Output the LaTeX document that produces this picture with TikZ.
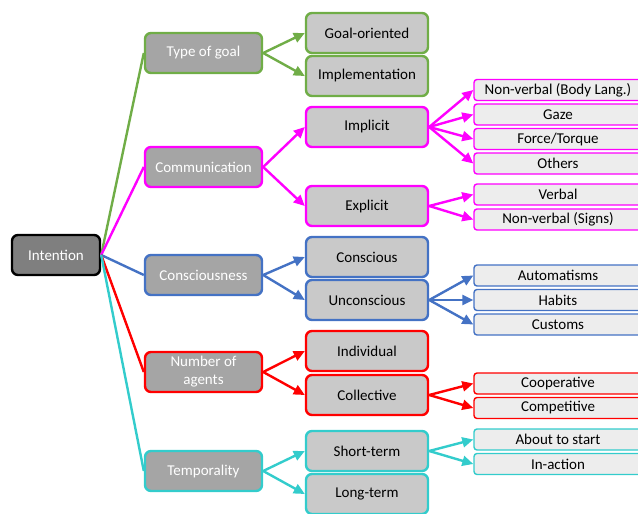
\documentclass[tikz,border=0pt]{standalone}
\usepackage{fontspec}
\setmainfont{Carlito}
\usepackage{xcolor}
\usetikzlibrary{arrows.meta}
\definecolor{goalgreen}{HTML}{70AD47}
\definecolor{commmag}{HTML}{FF00FF}
\definecolor{conblue}{HTML}{4472C4}
\definecolor{agentred}{HTML}{FF0000}
\definecolor{tempcyan}{HTML}{33CCCC}
\definecolor{rootgray}{HTML}{7F7F7F}
\definecolor{catgray}{HTML}{A5A5A5}
\definecolor{subgray}{HTML}{C9C9C9}
\definecolor{leafgray}{HTML}{EDEDED}

\begin{document}
\begin{tikzpicture}[x=1pt, y=-1pt,
	root/.style={draw=black, fill=rootgray, text=white, line width=2.4pt, rounded corners=6pt,
		minimum width=88pt, minimum height=40pt, font=\fontsize{15}{17}\selectfont},
	cat/.style={draw=#1, fill=catgray, text=white, line width=2.4pt, rounded corners=6pt,
		minimum width=117pt, minimum height=40pt, align=center, font=\fontsize{15}{18}\selectfont},
	sub/.style={draw=#1, fill=subgray, line width=2.4pt, rounded corners=6pt,
		minimum width=122pt, minimum height=40pt, font=\fontsize{15}{17}\selectfont},
	leaf/.style={draw=#1, fill=leafgray, line width=1.4pt, rounded corners=3pt,
		minimum width=168pt, minimum height=21pt, inner sep=0pt, font=\fontsize{15}{17}\selectfont},
	branch/.style={#1, line width=2.4pt},
	arr/.style={#1, line width=2.4pt, -{Triangle[length=11pt, width=10pt]}}
]
	\useasboundingbox (0,0) rectangle (638,514);

	% root
	\node[root] (intention) at (56,255) {Intention};

	% categories
	\node[cat=goalgreen] (goaltype) at (203.5,53) {Type of goal};
	\node[cat=commmag] (comm) at (203.5,167) {Communication};
	\node[cat=conblue] (consc) at (203.5,275) {Consciousness};
	\node[cat=agentred] (agents) at (203.5,372) {Number of\\agents};
	\node[cat=tempcyan] (temp) at (203.5,471) {Temporality};

	% sub-categories
	\node[sub=goalgreen] (goalor) at (367,33) {Goal-oriented};
	\node[sub=goalgreen] (implem) at (367,76) {Implementation};
	\node[sub=commmag] (implicit) at (367,127) {Implicit};
	\node[sub=commmag] (explicit) at (367,206) {Explicit};
	\node[sub=conblue] (conscious) at (367,257) {Conscious};
	\node[sub=conblue] (unconscious) at (367,300) {Unconscious};
	\node[sub=agentred] (individual) at (367,351) {Individual};
	\node[sub=agentred] (collective) at (367,395) {Collective};
	\node[sub=tempcyan] (shortterm) at (367,451) {Short-term};
	\node[sub=tempcyan] (longterm) at (367,494) {Long-term};

	% leaves
	\node[leaf=commmag] (bodylang) at (558,90) {Non-verbal (Body Lang.)};
	\node[leaf=commmag] (gaze) at (558,114.5) {Gaze};
	\node[leaf=commmag] (force) at (558,139) {Force/Torque};
	\node[leaf=commmag] (others) at (558,163.5) {Others};
	\node[leaf=commmag] (verbal) at (558,194.5) {Verbal};
	\node[leaf=commmag] (signs) at (558,219.5) {Non-verbal (Signs)};
	\node[leaf=conblue] (autom) at (558,275.5) {Automatisms};
	\node[leaf=conblue] (habits) at (558,300) {Habits};
	\node[leaf=conblue] (customs) at (558,324.5) {Customs};
	\node[leaf=agentred] (coop) at (558,383.5) {Cooperative};
	\node[leaf=agentred] (compet) at (558,408) {Competitive};
	\node[leaf=tempcyan] (aboutstart) at (558,439.5) {About to start};
	\node[leaf=tempcyan] (inaction) at (558,464) {In-action};

	% root to categories
	\draw[branch=goalgreen] (intention.east) -- (goaltype.west);
	\draw[branch=commmag] (intention.east) -- (comm.west);
	\draw[branch=conblue] (intention.east) -- (consc.west);
	\draw[branch=agentred] (intention.east) -- (agents.west);
	\draw[branch=tempcyan] (intention.east) -- (temp.west);

	% categories to sub-categories
	\draw[arr=goalgreen] (goaltype.east) -- (goalor.west);
	\draw[arr=goalgreen] (goaltype.east) -- (implem.west);
	\draw[arr=commmag] (comm.east) -- (implicit.west);
	\draw[arr=commmag] (comm.east) -- (explicit.west);
	\draw[arr=conblue] (consc.east) -- (conscious.west);
	\draw[arr=conblue] (consc.east) -- (unconscious.west);
	\draw[arr=agentred] (agents.east) -- (individual.west);
	\draw[arr=agentred] (agents.east) -- (collective.west);
	\draw[arr=tempcyan] (temp.east) -- (shortterm.west);
	\draw[arr=tempcyan] (temp.east) -- (longterm.west);

	% sub-categories to leaves
	\draw[arr=commmag] (implicit.east) -- (bodylang.west);
	\draw[arr=commmag] (implicit.east) -- (gaze.west);
	\draw[arr=commmag] (implicit.east) -- (force.west);
	\draw[arr=commmag] (implicit.east) -- (others.west);
	\draw[arr=commmag] (explicit.east) -- (verbal.west);
	\draw[arr=commmag] (explicit.east) -- (signs.west);
	\draw[arr=conblue] (unconscious.east) -- (autom.west);
	\draw[arr=conblue] (unconscious.east) -- (habits.west);
	\draw[arr=conblue] (unconscious.east) -- (customs.west);
	\draw[arr=agentred] (collective.east) -- (coop.west);
	\draw[arr=agentred] (collective.east) -- (compet.west);
	\draw[arr=tempcyan] (shortterm.east) -- (aboutstart.west);
	\draw[arr=tempcyan] (shortterm.east) -- (inaction.west);
\end{tikzpicture}
\end{document}
